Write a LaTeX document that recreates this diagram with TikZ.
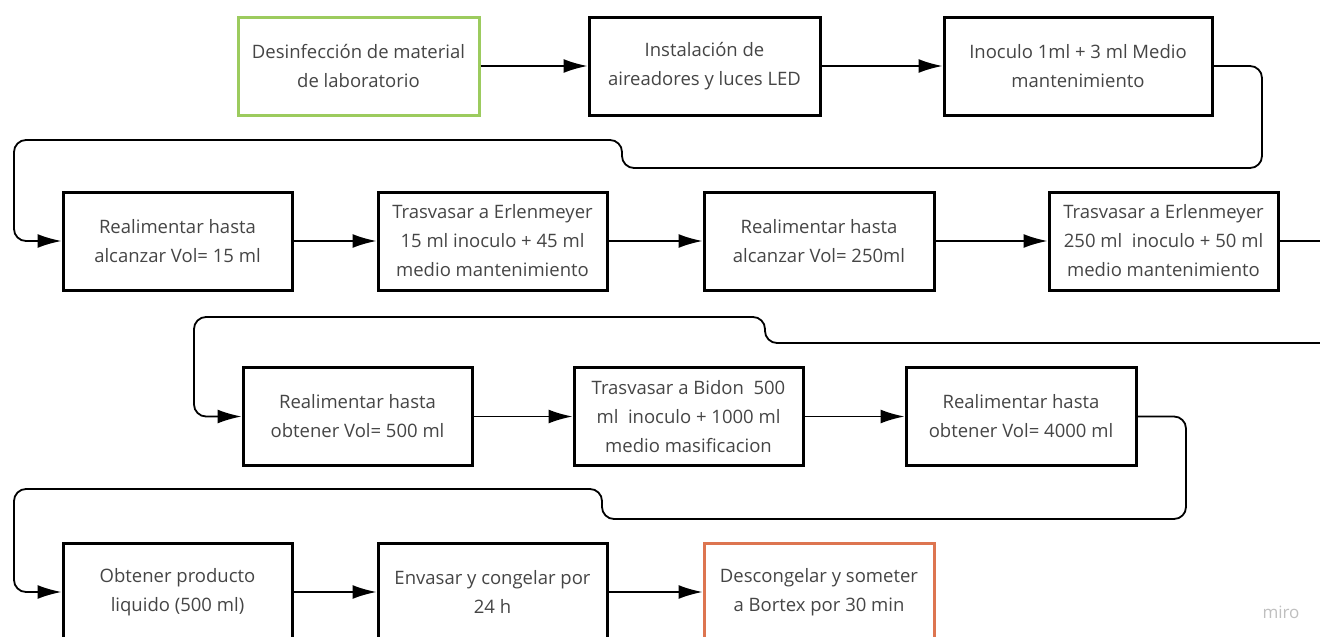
\documentclass[tikz,border=0pt]{standalone}
\usepackage{fontspec}
\setmainfont{Open Sans}
\usetikzlibrary{arrows.meta}
\definecolor{boxtext}{HTML}{454545}
\definecolor{startgreen}{HTML}{9CCB5E}
\definecolor{endorange}{HTML}{DD7550}
\begin{document}
\begin{tikzpicture}[x=1pt,y=-1pt,
    paso/.style={draw=black,line width=3pt,fill=white,text=boxtext,align=center,
        minimum height=98pt,inner sep=2pt,
        font=\fontsize{18.5}{29}\selectfont},
    flecha/.style={line width=1.8pt,-{Latex[length=24pt,width=14pt]}},
    vuelta/.style={flecha,rounded corners=12pt}]
        \useasboundingbox (0,0) rectangle (1320,637);
        \clip (0,0) rectangle (1320,637);

        % fila 1
        \node[paso,draw=startgreen,minimum width=241pt] (P1) at (358.5,66) {Desinfección de material\\de laboratorio};
        \node[paso,minimum width=231pt] (P2) at (704.5,66) {Instalación de\\aireadores y luces LED};
        \node[paso,minimum width=268pt] (P3) at (1078,66) {Inoculo 1ml + 3 ml Medio\\mantenimiento};

        % fila 2
        \node[paso,minimum width=229pt] (P4) at (177.5,241) {Realimentar hasta\\alcanzar Vol= 15 ml};
        \node[paso,minimum width=229pt] (P5) at (492.5,241) {Trasvasar a Erlenmeyer\\15 ml inoculo + 45 ml\\medio mantenimiento};
        \node[paso,minimum width=230pt] (P6) at (819,241) {Realimentar hasta\\alcanzar Vol= 250ml};
        \node[paso,minimum width=229pt] (P7) at (1163.5,241) {Trasvasar a Erlenmeyer\\250 ml \ inoculo + 50 ml\\medio mantenimiento};

        % fila 3
        \node[paso,minimum width=229pt] (P8) at (357.5,416.5) {Realimentar hasta\\obtener Vol= 500 ml};
        \node[paso,minimum width=229pt] (P9) at (688.5,416.5) {Trasvasar a Bidon \ 500\\ml \ inoculo + 1000 ml\\medio masificacion};
        \node[paso,minimum width=230pt] (P10) at (1021,416.5) {Realimentar hasta\\obtener Vol= 4000 ml};

        % fila 4
        \node[paso,minimum width=229pt] (P11) at (177.5,592) {Obtener producto\\liquido (500 ml)};
        \node[paso,minimum width=229pt] (P12) at (492.5,592) {Envasar y congelar por\\24 h};
        \node[paso,draw=endorange,minimum width=230pt] (P13) at (819,592) {Descongelar y someter\\a Bortex por 30 min};

        \node[text=black!25,font=\fontsize{17}{19}\selectfont] (marca) at (1281,612) {miro};

        \draw[flecha] (P1) -- (P2);
        \draw[flecha] (P2) -- (P3);
        \draw[vuelta] (P3.east) -- (1262,66) -- (1262,168) -- (622,168) -- (622,140) -- (14,140) -- (14,241) -- (P4.west);

        \draw[flecha] (P4) -- (P5);
        \draw[flecha] (P5) -- (P6);
        \draw[flecha] (P6) -- (P7);
        \draw[vuelta] (P7.east) -- (1345,241) -- (1345,343) -- (765,343) -- (765,317) -- (194,317) -- (194,416.5) -- (P8.west);

        \draw[flecha] (P8) -- (P9);
        \draw[flecha] (P9) -- (P10);
        \draw[vuelta] (P10.east) -- (1186,416.5) -- (1186,519) -- (602,519) -- (602,489) -- (14,489) -- (14,592) -- (P11.west);

        \draw[flecha] (P11) -- (P12);
        \draw[flecha] (P12) -- (P13);
\end{tikzpicture}
\end{document}
